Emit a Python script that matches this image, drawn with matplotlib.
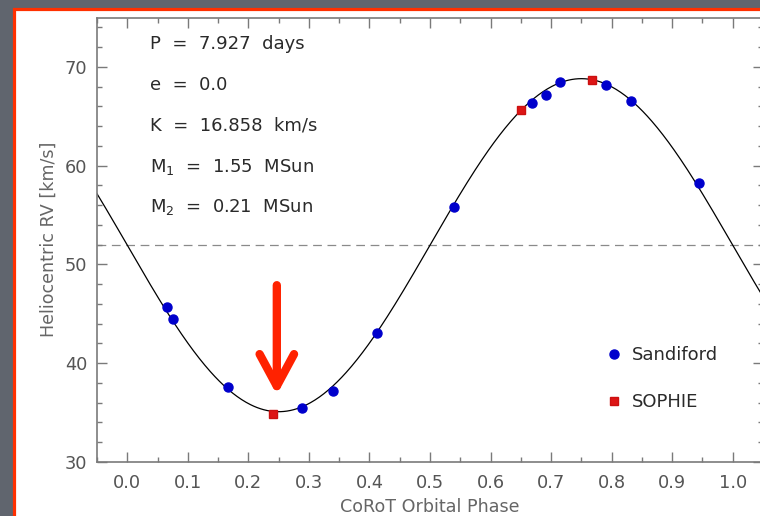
import matplotlib
matplotlib.use("Agg")
import matplotlib.pyplot as plt
from matplotlib.patches import Rectangle
from matplotlib.ticker import MultipleLocator
import numpy as np

# --- orbital solution (values printed on the chart) -------------------------
PERIOD_D = 7.927
ECC = 0.0
K_KMS = 16.858
GAMMA_KMS = 51.95
M1_MSUN = 1.55
M2_MSUN = 0.21

sandiford_phase = [0.066, 0.076, 0.167, 0.288, 0.339, 0.413,
                   0.540, 0.668, 0.691, 0.715, 0.791, 0.832, 0.944]
sandiford_rv = [45.7, 44.5, 37.6, 35.5, 37.2, 43.1,
                55.8, 66.3, 67.2, 68.5, 68.2, 66.5, 58.2]

sophie_phase = [0.240, 0.651, 0.767]
sophie_rv = [34.9, 65.6, 68.7]

# arrow marking the SOPHIE point near minimum
arrow_phase = 0.247
arrow_from_rv = 47.9
arrow_to_rv = 36.8

BG = "#60656e"
BORDER = "#ff3000"
AXCOL = "#7a7a7a"
LABCOL = "#555555"
TXTCOL = "#2a2a2a"

plt.rcParams["font.family"] = ["DejaVu Sans"]
plt.rcParams["mathtext.default"] = "regular"

fig = plt.figure(figsize=(7.6, 5.16), dpi=100, facecolor=BG)

# slide frame: white panel with a red border, running off the right/bottom
fig.patches.append(Rectangle((13.5 / 760, -0.2), 1.2, 1.2 - 8.5 / 516,
                             transform=fig.transFigure, facecolor="white",
                             edgecolor=BORDER, lw=2.3, zorder=-1))

ax = fig.add_axes([97 / 760, 54 / 516, 666 / 760, 444.5 / 516])
ax.set_facecolor("white")
ax.set_xlim(-0.05, 1.05)
ax.set_ylim(30, 75)

# model curve from the circular-orbit solution
phase = np.linspace(-0.05, 1.05, 600)
rv_model = GAMMA_KMS - K_KMS * np.sin(2 * np.pi * phase)
ax.plot(phase, rv_model, color="black", lw=0.9, zorder=2)
ax.axhline(GAMMA_KMS, color="#8a8a8a", lw=0.9, ls=(0, (7, 4.5)), zorder=1)

ax.plot(sandiford_phase, sandiford_rv, "o", color="#0000cc", ms=6.5,
        mec="#0000cc", label="Sandiford", zorder=3)
ax.plot(sophie_phase, sophie_rv, "s", color="#dd1515", ms=6,
        mec="#cc1010", label="SOPHIE", zorder=3)

ax.annotate("", xy=(arrow_phase, arrow_to_rv),
            xytext=(arrow_phase, arrow_from_rv),
            arrowprops=dict(arrowstyle="->,head_length=1.15,head_width=0.62",
                            mutation_scale=20, lw=6, color="#ff2200",
                            shrinkA=0, shrinkB=0, capstyle="round",
                            joinstyle="round"), zorder=4)

# parameter block (the original font sets words far apart)
params = [f"P = {PERIOD_D:.3f} days",
          f"e = {ECC:.1f}",
          f"K = {K_KMS:.3f} km/s",
          f"M$_1$ = {M1_MSUN:.2f} MSun",
          f"M$_2$ = {M2_MSUN:.2f} MSun"]
baselines = [0.9285, 0.8369, 0.7453, 0.6531, 0.5631]
for txt, yb in zip(params, baselines):
    ax.text(0.079, yb, txt.replace(" ", "  "), transform=ax.transAxes,
            fontsize=13, color=TXTCOL, va="baseline", ha="left")

leg = ax.legend(loc="center left", bbox_to_anchor=(0.764, 0.188),
                frameon=False, fontsize=13, handlelength=0.9,
                handletextpad=0.55, labelspacing=1.6, borderpad=0,
                borderaxespad=0, numpoints=1)
for t in leg.get_texts():
    t.set_color(TXTCOL)

ax.xaxis.set_major_locator(MultipleLocator(0.1))
ax.xaxis.set_minor_locator(MultipleLocator(0.05))
ax.yaxis.set_major_locator(MultipleLocator(10))
ax.yaxis.set_minor_locator(MultipleLocator(2))
ax.tick_params(which="both", direction="in", top=True, right=True,
               colors=AXCOL, labelcolor=LABCOL, width=1.0)
ax.tick_params(which="major", length=7.2, labelsize=12.8)
ax.tick_params(axis="x", which="major", pad=9)
ax.tick_params(axis="y", which="major", pad=7)
ax.tick_params(which="minor", length=3.6)
for s in ax.spines.values():
    s.set_color(AXCOL)
    s.set_linewidth(1.2)

ax.set_xlabel("CoRoT Orbital Phase", fontsize=12.6, color="#666666",
              labelpad=4)
ax.set_ylabel("Heliocentric RV [km/s]", fontsize=12.6, color="#666666",
              labelpad=5)

fig.savefig("out.png", dpi=100, facecolor=BG)
